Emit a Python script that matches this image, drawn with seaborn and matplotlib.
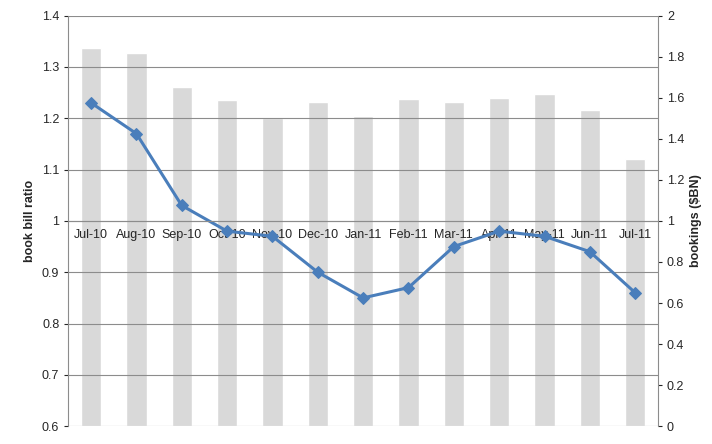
import matplotlib
matplotlib.use("Agg")
import matplotlib.pyplot as plt
import seaborn as sns
import pandas as pd

months = ["Jul-10","Aug-10","Sep-10","Oct-10","Nov-10","Dec-10","Jan-11","Feb-11","Mar-11","Apr-11","May-11","Jun-11","Jul-11"]
bookings = [1.84,1.82,1.65,1.59,1.50,1.58,1.51,1.595,1.58,1.60,1.62,1.54,1.30]
ratio = [1.23,1.17,1.03,0.98,0.97,0.90,0.85,0.87,0.95,0.98,0.97,0.94,0.86]

df = pd.DataFrame({"month": months, "bookings": bookings, "ratio": ratio})

sns.set_style("white")
plt.rcParams['font.family'] = ['Liberation Sans', 'DejaVu Sans']
fig = plt.figure(figsize=(7.12, 4.44), dpi=100)
ax1 = fig.add_axes([0.096, 0.04, 0.828, 0.925])
ax2 = ax1.twinx()

sns.barplot(data=df, x="month", y="bookings", order=months, color="#d9d9d9",
            width=0.45, ax=ax2, saturation=1)
ax2.set_ylim(0, 2)
ax2.set_yticks([0,0.2,0.4,0.6,0.8,1,1.2,1.4,1.6,1.8,2])
ax2.set_yticklabels(["0","0.2","0.4","0.6","0.8","1","1.2","1.4","1.6","1.8","2"])
ax2.set_ylabel("bookings ($BN)", fontsize=9, fontweight="bold")
ax2.tick_params(axis="y", labelsize=9, length=3, direction="out", right=True)

ax1.set_zorder(ax2.get_zorder() + 1)
ax1.patch.set_visible(False)
sns.lineplot(data=df, x="month", y="ratio", ax=ax1, color="#4a7ebb", marker="D",
             markersize=6, linewidth=2.2, markeredgecolor="#4a7ebb")
ax1.set_ylim(0.6, 1.4)
ax1.set_xlim(-0.5, len(months) - 0.5)
ax1.set_yticks([0.6,0.7,0.8,0.9,1,1.1,1.2,1.3,1.4])
ax1.set_yticklabels(["0.6","0.7","0.8","0.9","1","1.1","1.2","1.3","1.4"])
ax1.yaxis.grid(True, color="#8c8c8c", linewidth=0.8)
ax1.set_ylabel("book bill ratio", fontsize=9, fontweight="bold")
ax1.set_xlabel("")
ax1.tick_params(axis="y", labelsize=9, length=3, left=True)
ax1.tick_params(axis="x", labelsize=9, length=0, pad=6)
ax1.spines["bottom"].set_position(("data", 1.0))
ax1.spines["bottom"].set_color("#8c8c8c")
for s in ["top", "right"]:
    ax1.spines[s].set_visible(False)
    ax2.spines[s].set_visible(False)
ax1.spines["left"].set_color("#8c8c8c")
ax2.spines["left"].set_visible(False)
ax2.spines["bottom"].set_visible(False)
ax2.spines["right"].set_visible(True)
ax2.spines["right"].set_color("#8c8c8c")

fig.savefig("out.png", dpi=100)
